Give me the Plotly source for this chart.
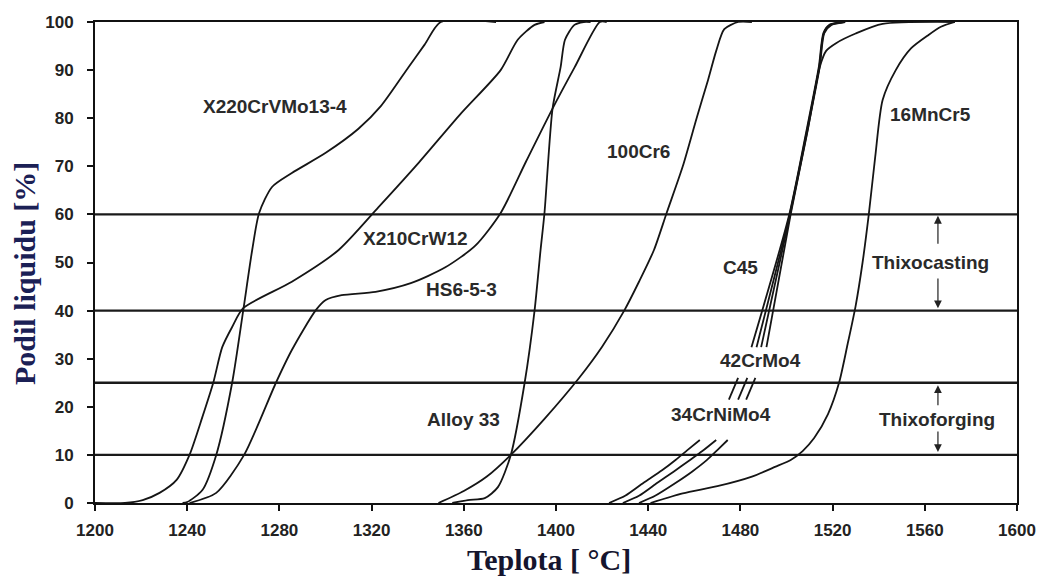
import plotly.graph_objects as go

# ---- data (temperature in °C, liquid fraction in %) ----
x220_T = [1238, 1240, 1246.6, 1252.6, 1259.5, 1264.3, 1268.2, 1271.2, 1276.8, 1285.4, 1300.1, 1314.3, 1324, 1336, 1343, 1350, 1374]
x220_f = [0, 0.2, 2.7, 10, 25, 40, 52.6, 60.3, 65.7, 68.6, 72.8, 77.8, 82.5, 90.6, 95.3, 100, 100]

x210_T = [1200, 1213, 1220.7, 1228, 1235.4, 1241, 1246.6, 1251.3, 1255.2, 1259.5, 1264.3, 1285.4, 1305.7, 1323, 1340, 1358.8, 1376, 1383.4, 1390.7, 1395]
x210_f = [0, 0, 0.6, 2.1, 4.8, 10, 17.9, 25, 32.4, 36.6, 40.5, 46, 52.6, 61.5, 70.5, 81, 90, 96.3, 99.4, 100]

hs_T = [1241, 1252.6, 1264.7, 1278.5, 1285.4, 1295.8, 1300.1, 1307, 1321.7, 1337, 1352, 1365, 1376, 1387, 1398.5, 1408, 1419, 1422]
hs_f = [0, 2.1, 10, 25, 31.8, 40.1, 42.2, 43.2, 43.9, 45.7, 49, 53.5, 60.3, 71, 82, 90.5, 100, 100]

alloy_T = [1355, 1361.8, 1369.1, 1374.8, 1380.4, 1386.4, 1390.7, 1393.3, 1395, 1398.5, 1402, 1403.9, 1408, 1412, 1415]
alloy_f = [0, 0.6, 1, 3.3, 10, 25, 40, 52.6, 60.3, 82, 90.6, 96.3, 99.4, 100, 100]

cr6_T = [1349, 1360, 1370, 1380.4, 1395, 1410, 1420, 1429.6, 1436, 1442.5, 1448, 1455, 1461, 1466, 1469.5, 1473, 1479, 1485]
cr6_f = [0, 2.5, 5.5, 10, 17.5, 26, 32.5, 40, 46, 52.6, 60.3, 70, 80, 88, 94, 98.5, 100, 100]

mn_T = [1441, 1455, 1470, 1485, 1495, 1502, 1507, 1512, 1518, 1522.8, 1526.5, 1530, 1533, 1535.7, 1538.5, 1541.7, 1547.4, 1554, 1561.6, 1567, 1573]
mn_f = [0, 2, 3.5, 5.5, 7.5, 9, 10.8, 13.5, 18.5, 25, 33, 41, 50, 60, 72, 83.8, 90, 94.5, 97.3, 99, 100]

# lower (broken) parts of the 34CrNiMo4 / 42CrMo4 / C45 group
low_a_T = [1423, 1430, 1438, 1446, 1452, 1457, 1462.4]
low_a_f = [0, 1.5, 4.2, 6.8, 9, 11, 13.1]
low_b_T = [1429, 1436, 1444, 1451, 1458, 1463.5, 1469.5]
low_b_f = [0, 1.5, 4.2, 6.5, 8.9, 10.8, 13.1]
low_c_T = [1436, 1443, 1452, 1459, 1465.4, 1470, 1474.5]
low_c_f = [0, 1.5, 4.2, 6.5, 8.9, 11, 13.1]

# upper parts of the group
up_1_T = [1484.8, 1501.2, 1508.5, 1514.0, 1516.0, 1518.5, 1524.5]
up_1_f = [32.4, 60, 77, 90.6, 97.7, 99.4, 100]
up_2_T = [1487.0, 1501.4, 1508.7, 1514.2, 1516.2, 1519.0, 1525.0]
up_2_f = [32.4, 60, 77, 90.6, 97.7, 99.4, 100]
up_3_T = [1489.0, 1501.6, 1508.9, 1514.4, 1516.4, 1519.5, 1525.5]
up_3_f = [32.4, 60, 77, 90.6, 97.7, 99.4, 100]
up_4_T = [1491.3, 1501.8, 1509.0, 1514.4, 1517.2, 1521.5, 1530, 1541.7, 1573]
up_4_f = [32.4, 60, 77, 90.6, 94, 95.6, 97.6, 99.6, 100]

# break marks between lower and upper parts
brk_T0 = [1475.0, 1479.0, 1482.5]
brk_T1 = [1479.0, 1483.0, 1486.5]
brk_f0 = 21.5
brk_f1 = 26.0

# horizontal reference levels
levels = [10, 25, 40, 60]

# curve labels
lab_text = ["X220CrVMo13-4", "X210CrW12", "HS6-5-3", "Alloy 33", "100Cr6",
            "C45", "42CrMo4", "34CrNiMo4", "16MnCr5", "Thixocasting", "Thixoforging"]
lab_T = [1278, 1339, 1359, 1360, 1436, 1480, 1488.7, 1471.4, 1562.5, 1562.4, 1565.5]
lab_f = [82.5, 55.0, 44.3, 17.3, 73.0, 49.0, 29.7, 18.5, 80.7, 50.1, 17.3]

# range arrows (tip, tail)
arr_T = 1565.7
arr_tip = [59.7, 40.5, 24.5, 10.6]
arr_tail = [53.6, 47.0, 20.0, 15.2]

x_ticks = list(range(1200, 1601, 40))
y_ticks = list(range(0, 101, 10))

# ---- figure ----
fig = go.Figure()
LC = "#151515"
curves = [(x220_T, x220_f), (x210_T, x210_f), (hs_T, hs_f), (alloy_T, alloy_f),
          (cr6_T, cr6_f), (mn_T, mn_f), (low_a_T, low_a_f), (low_b_T, low_b_f),
          (low_c_T, low_c_f), (up_1_T, up_1_f), (up_2_T, up_2_f), (up_3_T, up_3_f),
          (up_4_T, up_4_f)]
for T, f in curves:
    fig.add_trace(go.Scatter(x=T, y=f, mode="lines",
                             line=dict(color=LC, width=1.8, shape="spline", smoothing=0.7),
                             hoverinfo="skip", showlegend=False))
for t0, t1 in zip(brk_T0, brk_T1):
    fig.add_trace(go.Scatter(x=[t0, t1], y=[brk_f0, brk_f1], mode="lines",
                             line=dict(color=LC, width=1.8), hoverinfo="skip", showlegend=False))

for lv in levels:
    fig.add_shape(type="line", xref="x", yref="y", x0=1200, x1=1600, y0=lv, y1=lv,
                  line=dict(color="#1a1a1a", width=2.4), layer="below")

for txt, t, f in zip(lab_text, lab_T, lab_f):
    fig.add_annotation(x=t, y=f, text=txt, showarrow=False,
                       font=dict(family="Liberation Sans, Arial", size=19, color="#2a2a2a", weight="bold"))

for tip, tail in zip(arr_tip, arr_tail):
    fig.add_annotation(x=arr_T, y=tip, ax=arr_T, ay=tail, xref="x", yref="y",
                       axref="x", ayref="y", text="", showarrow=True,
                       arrowhead=2, arrowsize=1.3, arrowwidth=1.2, arrowcolor="#222")

# axis titles
fig.add_annotation(xref="paper", yref="paper", x=0.492, y=-0.118, text="Teplota [ °C]",
                   showarrow=False, xanchor="center", yanchor="middle",
                   font=dict(family="Liberation Serif, Times New Roman", size=30, color="#15152e", weight="bold"))
fig.add_annotation(xref="paper", yref="paper", x=-0.077, y=0.476, text="Podil liquidu [%]",
                   showarrow=False, xanchor="center", yanchor="middle", textangle=-90,
                   font=dict(family="Liberation Serif, Times New Roman", size=30, color="#1b2055", weight="bold"))

tickfont = dict(family="Liberation Sans, Arial", size=17, color="#222", weight="bold")
fig.update_xaxes(range=[1200, 1600], tickvals=x_ticks, ticks="outside", ticklen=6, tickwidth=2,
                 tickcolor="#111", showline=True, linewidth=2, linecolor="#111", mirror=True,
                 showgrid=False, zeroline=False, tickfont=tickfont, ticklabelstandoff=5)
fig.update_yaxes(range=[0, 100], tickvals=y_ticks, ticks="outside", ticklen=6, tickwidth=2,
                 tickcolor="#111", showline=True, linewidth=2, linecolor="#111", mirror=True,
                 showgrid=False, zeroline=False, tickfont=tickfont, ticklabelstandoff=10)

fig.update_layout(width=1048, height=579, margin=dict(l=95, r=26, t=22, b=76),
                  paper_bgcolor="white", plot_bgcolor="white", showlegend=False)

fig.write_html("out.html", config={"displayModeBar": False},
               post_script="document.body.style.margin='0px';document.body.style.overflow='hidden';")
